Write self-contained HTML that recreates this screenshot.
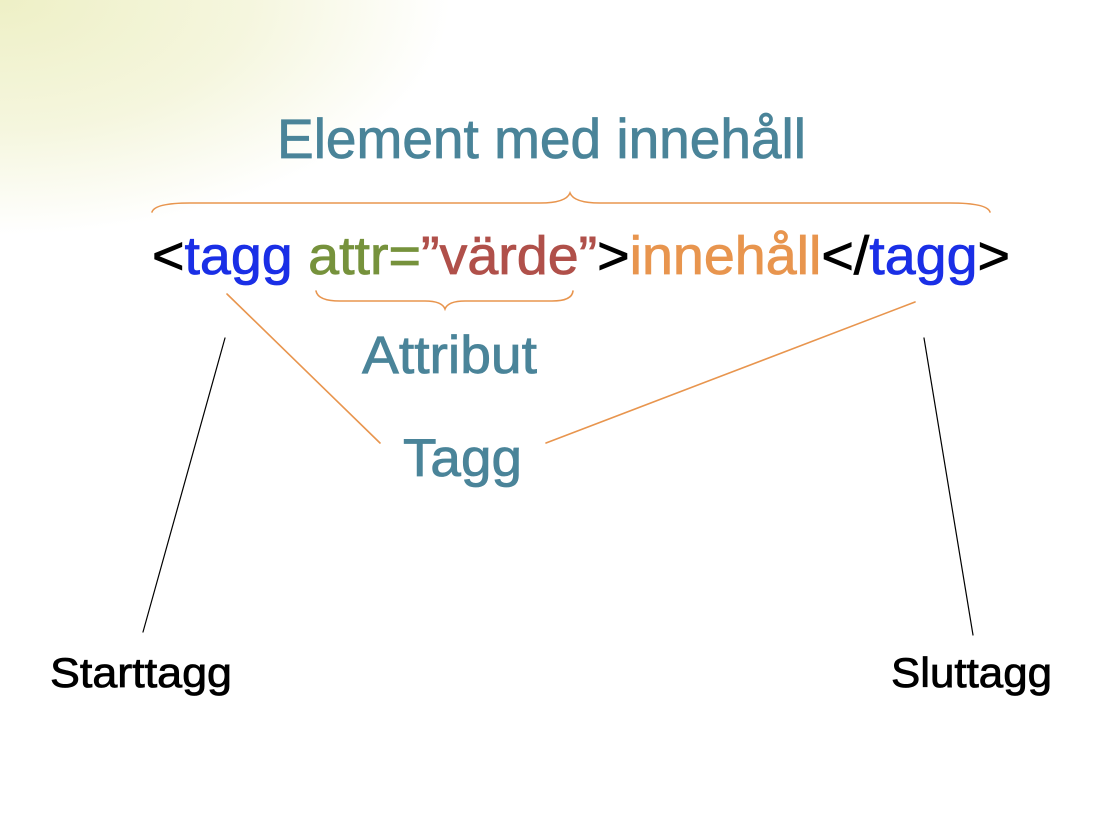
<!DOCTYPE html>
<html><head><meta charset="utf-8"><style>
html,body{margin:0;padding:0;background:#fff;}
body{width:1106px;height:830px;overflow:hidden;}
</style></head><body>
<svg width="1106" height="830" viewBox="0 0 1106 830" xmlns="http://www.w3.org/2000/svg">
<defs>
<radialGradient id="g" cx="0" cy="0" r="1" gradientUnits="userSpaceOnUse" gradientTransform="translate(0 0) scale(450 235)">
<stop offset="0" stop-color="#eef0c6"/>
<stop offset="0.55" stop-color="#f5f6de"/>
<stop offset="1" stop-color="#ffffff"/>
</radialGradient>
</defs>
<rect width="1106" height="830" fill="#fff"/>
<rect width="1106" height="830" fill="url(#g)"/>
<g font-family="Liberation Sans, Arial, sans-serif" stroke-width="0.8">
<text x="277" y="158" font-size="56" fill="#4a8499" stroke="#4a8499" textLength="529" lengthAdjust="spacingAndGlyphs">Element med innehåll</text>
<text x="152" y="274" font-size="54" textLength="858" lengthAdjust="spacingAndGlyphs"><tspan fill="#000" stroke="#000">&lt;</tspan><tspan fill="#1a2fe6" stroke="#1a2fe6">tagg </tspan><tspan fill="#76923c" stroke="#76923c">attr=</tspan><tspan fill="#b0504a" stroke="#b0504a">”värde”</tspan><tspan fill="#000" stroke="#000">&gt;</tspan><tspan fill="#e8954e" stroke="#e8954e">innehåll</tspan><tspan fill="#000" stroke="#000">&lt;/</tspan><tspan fill="#1a2fe6" stroke="#1a2fe6">tagg</tspan><tspan fill="#000" stroke="#000">&gt;</tspan></text>
<text x="362" y="373" font-size="53" fill="#4a8499" stroke="#4a8499" textLength="175" lengthAdjust="spacingAndGlyphs">Attribut</text>
<text x="403" y="476" font-size="53" fill="#4a8499" stroke="#4a8499" textLength="119" lengthAdjust="spacingAndGlyphs">Tagg</text>
<text x="50" y="687" font-size="42" fill="#000" stroke="#000" textLength="182" lengthAdjust="spacingAndGlyphs">Starttagg</text>
<text x="891" y="687" font-size="42" fill="#000" stroke="#000" textLength="161" lengthAdjust="spacingAndGlyphs">Sluttagg</text>
</g>
<g fill="none" stroke-linecap="round">
<path d="M152 212 Q155 203 190 203 L540 203 Q566 203 570 193 Q574 203 600 203 L950 203 Q987 203 990 212" stroke="#e8954e" stroke-width="1.6"/>
<path d="M316 291 Q318 301 340 301 L425 301 Q442 301 445 309 Q448 301 465 301 L552 301 Q572 301 573 291" stroke="#e8954e" stroke-width="1.6"/>
<line x1="227" y1="294" x2="380" y2="443" stroke="#e8954e" stroke-width="1.6"/>
<line x1="915" y1="302" x2="546" y2="443" stroke="#e8954e" stroke-width="1.6"/>
<line x1="225" y1="338" x2="143" y2="632" stroke="#000" stroke-width="1.2"/>
<line x1="924" y1="338" x2="973" y2="635" stroke="#000" stroke-width="1.2"/>
</g>
</svg>
</body></html>
